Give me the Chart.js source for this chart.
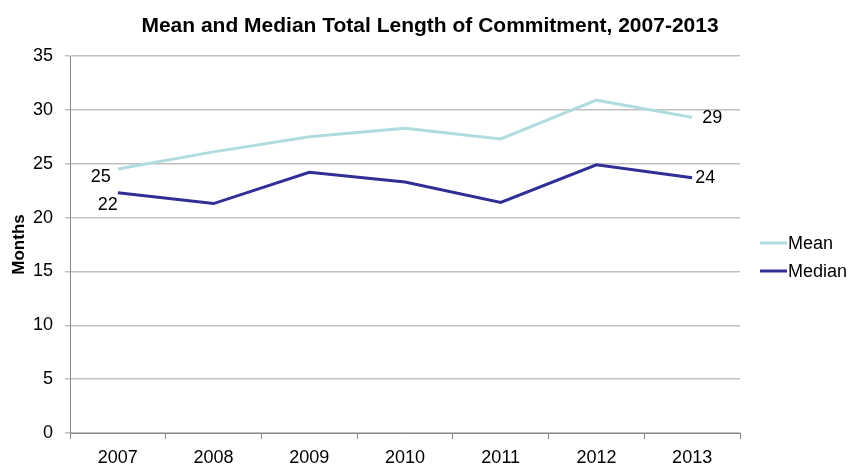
<!DOCTYPE html>
<html>
<head>
<meta charset="utf-8">
<script src="https://cdn.jsdelivr.net/npm/chart.js@4.4.1/dist/chart.umd.min.js"></script>
<style>
  html, body { margin: 0; padding: 0; background: #fff; }
  #wrap { width: 852px; height: 464px; }
</style>
</head>
<body>
<div id="wrap"><canvas id="commitChart" width="852" height="464"></canvas></div>
<script>
// Chart data
const years = ['2007', '2008', '2009', '2010', '2011', '2012', '2013'];
const meanMonths = [24.5, 26.1, 27.5, 28.3, 27.3, 30.9, 29.3];
const medianMonths = [22.3, 21.3, 24.2, 23.3, 21.4, 24.9, 23.7];
const yTicks = [0, 5, 10, 15, 20, 25, 30, 35];
const chartTitle = 'Mean and Median Total Length of Commitment, 2007-2013';

const meanColor = '#b0dcdf';
const medianColor = '#2f2f96';
const fontFamily = '"Liberation Sans", Arial, sans-serif';

// title drawn by hand, centred over the whole picture like the original
const topTitle = {
  id: 'topTitle',
  afterDraw: (chart) => {
    const ctx = chart.ctx;
    ctx.save();
    ctx.font = 'bold 21px ' + fontFamily;
    ctx.fillStyle = '#000';
    ctx.textAlign = 'center';
    ctx.textBaseline = 'middle';
    ctx.fillText(chartTitle, 430, 26);
    ctx.restore();
  }
};

// labels on the first and last point of each line
const endLabels = {
  id: 'endLabels',
  afterDatasetsDraw: (chart) => {
    const ctx = chart.ctx;
    ctx.save();
    ctx.font = '18px ' + fontFamily;
    ctx.fillStyle = '#000';
    ctx.textBaseline = 'middle';
    ctx.textAlign = 'left';
    const offsets = [
      { first: [-27, 8], last: [10, 1] },  // Mean
      { first: [-20, 12], last: [3, 0] }   // Median
    ];
    chart.data.datasets.forEach((ds, i) => {
      const pts = chart.getDatasetMeta(i).data;
      const first = pts[0], last = pts[pts.length - 1];
      ctx.fillText(Math.round(ds.data[0]), first.x + offsets[i].first[0], first.y + offsets[i].first[1]);
      ctx.fillText(Math.round(ds.data[ds.data.length - 1]), last.x + offsets[i].last[0], last.y + offsets[i].last[1]);
    });
    ctx.restore();
  }
};

// legend on the right, drawn by hand so it sits where the original has it
const sideLegend = {
  id: 'sideLegend',
  afterDraw: (chart) => {
    const ctx = chart.ctx;
    ctx.save();
    ctx.font = '18px ' + fontFamily;
    ctx.textBaseline = 'middle';
    ctx.textAlign = 'left';
    chart.data.datasets.forEach((ds, i) => {
      const y = 243 + i * 28;
      ctx.strokeStyle = ds.borderColor;
      ctx.lineWidth = 3;
      ctx.beginPath();
      ctx.moveTo(760, y);
      ctx.lineTo(787, y);
      ctx.stroke();
      ctx.fillStyle = '#000';
      ctx.fillText(ds.label, 788, y + 1);
    });
    ctx.restore();
  }
};

new Chart(document.getElementById('commitChart').getContext('2d'), {
  type: 'line',
  data: {
    labels: years,
    datasets: [
      {
        label: 'Mean',
        data: meanMonths,
        borderColor: meanColor,
        backgroundColor: meanColor,
        borderWidth: 3,
        pointRadius: 0,
        tension: 0
      },
      {
        label: 'Median',
        data: medianMonths,
        borderColor: medianColor,
        backgroundColor: medianColor,
        borderWidth: 3,
        pointRadius: 0,
        tension: 0
      }
    ]
  },
  options: {
    responsive: false,
    animation: false,
    layout: { padding: { left: 0, right: 112, top: 56, bottom: 0 } },
    plugins: {
      legend: { display: false },
      tooltip: { enabled: false },
      title: { display: false }
    },
    scales: {
      x: {
        offset: true,
        afterFit: (scale) => { scale.height = 31; },
        border: { color: '#888', width: 1 },
        grid: { offset: true, drawOnChartArea: false, color: '#888', tickLength: 6 },
        ticks: { color: '#000', font: { family: fontFamily, size: 18 }, padding: 8, maxRotation: 0 }
      },
      y: {
        min: 0,
        max: 35,
        afterFit: (scale) => { scale.width = 70; },
        afterBuildTicks: (scale) => { scale.ticks = yTicks.map(v => ({ value: v })); },
        border: { color: '#888', width: 1 },
        grid: { color: '#c0c0c0', tickLength: 5, lineWidth: 1.5 },
        ticks: { color: '#000', font: { family: fontFamily, size: 18 }, padding: 12 },
        title: {
          display: true,
          text: 'Months',
          color: '#000',
          font: { family: fontFamily, size: 17, weight: 'bold' },
          padding: { top: 9, bottom: 0 }
        }
      }
    }
  },
  plugins: [topTitle, endLabels, sideLegend]
});
</script>
</body>
</html>
